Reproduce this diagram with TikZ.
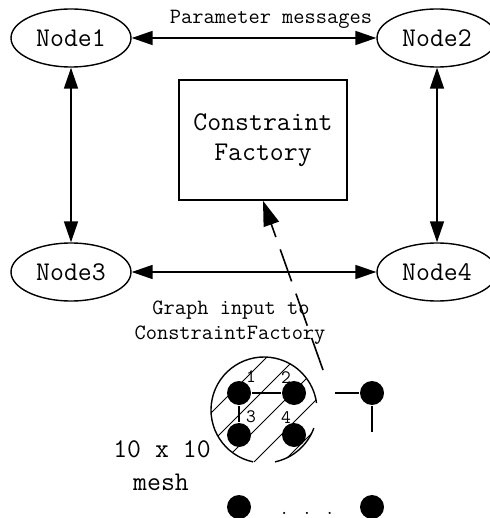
\documentclass[tikz,border=0pt]{standalone}
\usepackage{fontspec}
\usetikzlibrary{shapes.geometric,arrows.meta}
\begin{document}
\begin{tikzpicture}[x=1pt,y=-1pt,
  line width=1.6pt,
  twoarrow/.style={{Triangle[length=21pt,width=14pt]}-{Triangle[length=21pt,width=14pt]}},
  onearrow/.style={-{Triangle[length=25pt,width=16pt]}},
  proc/.style={draw, ellipse, line width=1.4pt, minimum width=120pt, minimum height=58pt, inner sep=0pt, font=\ttfamily\fontsize{27}{30}\selectfont},
  cfbox/.style={draw, rectangle, line width=1.6pt, minimum width=168pt, minimum height=120pt, inner sep=0pt, align=center, font=\ttfamily\fontsize{27}{30}\selectfont},
  lbl/.style={font=\ttfamily\fontsize{21.8}{25}\selectfont, inner sep=0pt},
  biglbl/.style={font=\ttfamily\fontsize{27}{30}\selectfont, inner sep=0pt},
  num/.style={font=\ttfamily\fontsize{19}{22}\selectfont, inner sep=0pt},
  meshdot/.style={circle, fill=black, minimum size=24pt, inner sep=0pt},
  hatchline/.style={line width=0.8pt},
  rim/.style={line width=1.4pt}
]
\useasboundingbox (0,0) rectangle (489,518);

% processes
\node[proc] (n1) at (71,38) {Node1};
\node[proc] (n2) at (437,38) {Node2};
\node[proc] (n3) at (71,272) {Node3};
\node[proc] (n4) at (437,272) {Node4};
\node[cfbox] (cf) at (263,140) {Constraint\\Factory};

\draw[twoarrow] (n1) -- (n2);
\draw[twoarrow] (n3) -- (n4);
\draw[twoarrow] (n1) -- (n3);
\draw[twoarrow] (n2) -- (n4);

\node[lbl] (pm) at (271,19) {Parameter messages};
\node[lbl] (gi) at (231,310) {Graph input to};
\node[lbl] (gi2) at (230,335) {ConstraintFactory};

\node[biglbl] (mx) at (162,449) {10 x 10};
\node[biglbl] (ms) at (161,482) {mesh};

% hatched region
\begin{scope}
  \clip (264,410) circle (53);
  \foreach \c in {624,654,685,716,745}
    \draw[hatchline] (\c-300,300) -- (\c-520,520);
\end{scope}
\draw[rim] (264,410) ++(19.9:53) arc (19.9:78:53);
\draw[rim] (264,410) ++(102:53) arc (102:352.4:53);

% mesh nodes
\node[meshdot] (d1) at (239,393) {};
\node[meshdot] (d2) at (294,393) {};
\node[meshdot] (d3) at (239,435) {};
\node[meshdot] (d4) at (294,435) {};
\node[meshdot] (d5) at (372,393) {};
\node[meshdot] (d6) at (239,507) {};
\node[meshdot] (d7) at (372,507) {};
\draw (d1) -- (d2);
\draw (d1) -- (d3);
\coordinate (e1) at (335,393);
\coordinate (e2) at (372,432);
\draw (e1) -- (d5);
\draw (d5) -- (e2);

\node[num] (l1) at (251,377) {1};
\node[num] (l2) at (286,378) {2};
\node[num] (l3) at (251,417) {3};
\node[num] (l4) at (286,418) {4};
\node[num, anchor=base] (dots) at (307,514) {. . .};

% graph input arrow
\coordinate (gs) at (323,370);
\draw[onearrow, dash pattern=on 34pt off 13pt] (gs) -- (cf.south);
\end{tikzpicture}
\end{document}
